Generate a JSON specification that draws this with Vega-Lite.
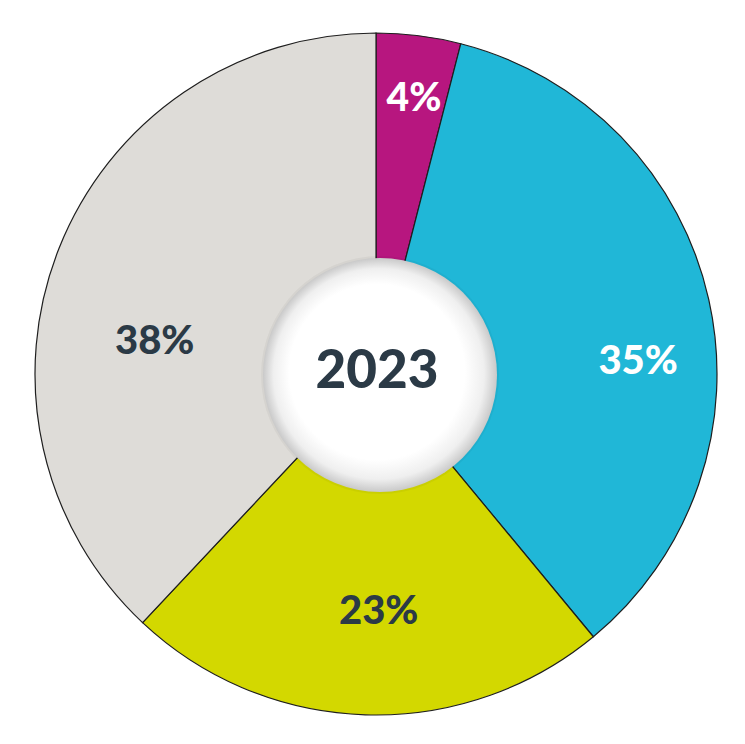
{
  "$schema": "https://vega.github.io/schema/vega-lite/v6.json",
  "width": 738,
  "height": 740,
  "padding": {"left": 7, "top": 4, "right": 0, "bottom": 0},
  "autosize": {"type": "none"},
  "background": "white",
  "config": {"view": {"stroke": null}},
  "datasets": {
    "slices": [
      {"segment": "A", "value": 4, "label": "4%", "order": 1},
      {"segment": "B", "value": 35, "label": "35%", "order": 2},
      {"segment": "C", "value": 23, "label": "23%", "order": 3},
      {"segment": "D", "value": 38, "label": "38%", "order": 4}
    ],
    "center": [{"year": "2023"}]
  },
  "layer": [
    {
      "data": {"name": "slices"},
      "mark": {"type": "arc", "outerRadius": 341, "stroke": "#1e1e1e", "strokeWidth": 1.2},
      "encoding": {
        "theta": {"field": "value", "type": "quantitative", "stack": true},
        "order": {"field": "order", "type": "quantitative"},
        "color": {
          "field": "segment", "type": "nominal", "legend": null,
          "scale": {"domain": ["A", "B", "C", "D"], "range": ["#B7167F", "#20B7D7", "#D3D800", "#DEDCD8"]}
        }
      }
    },
    {
      "data": {"name": "slices"},
      "transform": [
        {"stack": "value", "groupby": [], "sort": [{"field": "order", "order": "ascending"}], "as": ["t0", "t1"]},
        {"filter": "datum.segment === 'A'"}
      ],
      "mark": {"type": "text", "radius": 275, "dx": 38, "dy": 0, "font": "Lato", "fontWeight": 900, "fontSize": 39, "fill": "white", "align": "center", "baseline": "middle"},
      "encoding": {"theta": {"field": "t0", "type": "quantitative"}, "text": {"field": "label"}}
    },
    {
      "data": {"name": "slices"},
      "transform": [
        {"stack": "value", "groupby": [], "sort": [{"field": "order", "order": "ascending"}], "as": ["t0", "t1"]},
        {"filter": "datum.segment === 'B'"}
      ],
      "mark": {"type": "text", "radius": 262, "dx": 197, "dy": 242, "font": "Lato", "fontWeight": 900, "fontSize": 40, "fill": "white", "align": "center", "baseline": "middle"},
      "encoding": {"theta": {"field": "t0", "type": "quantitative"}, "text": {"field": "label"}}
    },
    {
      "data": {"name": "slices"},
      "transform": [
        {"stack": "value", "groupby": [], "sort": [{"field": "order", "order": "ascending"}], "as": ["t0", "t1"]},
        {"filter": "datum.segment === 'C'"}
      ],
      "mark": {"type": "text", "radius": 238, "dx": -149, "dy": 55, "font": "Lato", "fontWeight": 900, "fontSize": 40, "fill": "#2B3A46", "align": "center", "baseline": "middle"},
      "encoding": {"theta": {"field": "t0", "type": "quantitative"}, "text": {"field": "label"}}
    },
    {
      "data": {"name": "slices"},
      "transform": [
        {"stack": "value", "groupby": [], "sort": [{"field": "order", "order": "ascending"}], "as": ["t0", "t1"]},
        {"filter": "datum.segment === 'D'"}
      ],
      "mark": {"type": "text", "radius": 224, "dx": -68, "dy": -195, "font": "Lato", "fontWeight": 900, "fontSize": 40, "fill": "#2B3A46", "align": "center", "baseline": "middle"},
      "encoding": {"theta": {"field": "t0", "type": "quantitative"}, "text": {"field": "label"}}
    },
    {
      "data": {"name": "center"},
      "mark": {"type": "arc", "outerRadius": 119, "innerRadius": 114, "fill": "#000000", "fillOpacity": 0.04, "xOffset": 4, "yOffset": 1},
      "encoding": {}
    },
    {
      "data": {"name": "center"},
      "mark": {
        "type": "arc", "outerRadius": 117, "xOffset": 4, "yOffset": 1,
        "fill": {
          "gradient": "radial", "x1": 0.45, "y1": 0.45, "x2": 0.5, "y2": 0.5, "r1": 0, "r2": 0.5,
          "stops": [
            {"offset": 0, "color": "#ffffff"},
            {"offset": 0.75, "color": "#ffffff"},
            {"offset": 0.9, "color": "#efefef"},
            {"offset": 1, "color": "#c9c9c9"}
          ]
        }
      },
      "encoding": {}
    },
    {
      "data": {"name": "center"},
      "mark": {"type": "text", "font": "Lato", "fontWeight": 900, "fontSize": 53, "fill": "#2B3A46", "align": "center", "baseline": "middle", "dy": -2, "dx": 1},
      "encoding": {"text": {"field": "year"}}
    }
  ]
}
